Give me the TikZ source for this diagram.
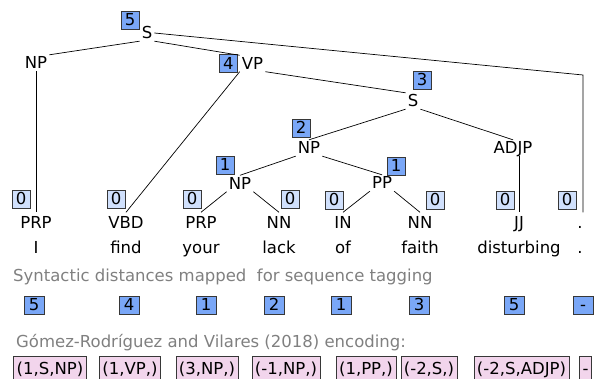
\documentclass[tikz,border=0pt]{standalone}
\usepackage{fontspec}
\setmainfont{DejaVu Sans}
\usetikzlibrary{positioning}

\definecolor{distblue}{RGB}{122,167,247}
\definecolor{zeroblue}{RGB}{208,224,252}
\definecolor{encpink}{RGB}{242,213,236}
\definecolor{boxline}{RGB}{55,55,55}
\definecolor{notegray}{RGB}{128,128,128}

\begin{document}
\begin{tikzpicture}[x=1pt, y=-1pt,
    font=\fontsize{16.5}{20}\selectfont,
    cat/.style={inner sep=2pt, text height=12pt, text depth=0pt},
    tag/.style={inner xsep=2pt, inner ysep=4.5pt, text height=12pt, text depth=3.5pt},
    dist/.style={draw=boxline, fill=distblue, inner sep=0pt,
                 minimum width=18pt, minimum height=18pt,
                 text height=12pt, text depth=0pt},
    zero/.style={dist, fill=zeroblue},
    seqdist/.style={dist, minimum width=20pt},
    enc/.style={draw=boxline, fill=encpink, inner xsep=3pt, inner ysep=5pt,
                text height=13pt, text depth=3.5pt, anchor=base},
    note/.style={text=notegray, anchor=base west, inner sep=0pt},
    branch/.style={line width=0.7pt}]
    \useasboundingbox (0,0) rectangle (597,379);

    % POS tags and words
        \node[tag, anchor=base] (tI) at (36,229) {PRP};
        \node[tag, anchor=base] (tFind) at (126,229) {VBD};
        \node[tag, anchor=base] (tYour) at (201,229) {PRP};
        \node[tag, anchor=base] (tLack) at (279,229) {NN};
        \node[tag, anchor=base] (tOf) at (343,229) {IN};
        \node[tag, anchor=base] (tFaith) at (420,229) {NN};
        \node[tag, anchor=base] (tDist) at (519,229) {JJ};
        \node[tag, anchor=base] (tDot) at (580,229) {.};

        \node[tag, below=0pt of tI] (wI) {I};
        \node[tag, below=0pt of tFind] (wFind) {find};
        \node[tag, below=0pt of tYour] (wYour) {your};
        \node[tag, below=0pt of tLack] (wLack) {lack};
        \node[tag, below=0pt of tOf] (wOf) {of};
        \node[tag, below=0pt of tFaith] (wFaith) {faith};
        \node[tag, below=0pt of tDist] (wDist) {disturbing};
        \node[tag, below=0pt of tDot] (wDot) {.};

    % constituents
        \node[cat] (S) at (147,33) {S};
        \node[cat] (NPsubj) at (36,63) {NP};
        \node[cat] (VP) at (252.5,63.5) {VP};
        \node[cat] (Sc) at (413,101) {S};
        \node[cat] (NPobj) at (309,148) {NP};
        \node[cat] (ADJP) at (513,148) {ADJP};
        \node[cat] (NPin) at (240,183.5) {NP};
        \node[cat] (PP) at (382,183) {PP};
        \coordinate (corner) at (583,75);

    % syntactic distances in the tree
        \node[dist] (dS) at (130,20) {5};
        \node[dist, left=2pt of VP] (dVP) {4};
        \node[dist] (dSc) at (422,80) {3};
        \node[dist] (dNPobj) at (301,128) {2};
        \node[dist] (dNPin) at (225,165) {1};
        \node[dist] (dPP) at (396,166) {1};

        \node[zero] (zI) at (21,199) {0};
        \node[zero] (zFind) at (116,199) {0};
        \node[zero] (zYour) at (192,199) {0};
        \node[zero] (zLack) at (290,199) {0};
        \node[zero] (zOf) at (334,200) {0};
        \node[zero] (zFaith) at (435,200) {0};
        \node[zero] (zDist) at (505,200) {0};
        \node[zero] (zDot) at (567,200) {0};

    % branches
        \draw[branch] (S.south west) -- (NPsubj.north east);
        \draw[branch] (S.south east) -- (VP.north west);
        \draw[branch] (S.east) -- (corner) -- (corner |- tDot.north);
        \draw[branch] (NPsubj.south) -- (tI.north);
        \draw[branch] (VP.south west) -- (tFind.north);
        \draw[branch] (VP.south east) -- (Sc.north west);
        \draw[branch] (Sc.south west) -- (NPobj.north);
        \draw[branch] (Sc.south east) -- (ADJP.north);
        \draw[branch] (ADJP.south -| tDist.north) -- (tDist.north);
        \draw[branch] (NPobj.south west) -- (NPin.north);
        \draw[branch] (NPobj.south east) -- (PP.north);
        \draw[branch] (NPin.south west) -- (tYour.north);
        \draw[branch] (NPin.south east) -- (tLack.north);
        \draw[branch] (PP.south west) -- (tOf.north);
        \draw[branch] (PP.south east) -- (tFaith.north);

    % sequence tagging rows
        \node[note] (noteDist) at (13,282) {Syntactic distances mapped \ for sequence tagging};
        \node[seqdist] (sI) at (34,305) {5};
        \node[seqdist] (sFind) at (129,305) {4};
        \node[seqdist] (sYour) at (206,305) {1};
        \node[seqdist] (sLack) at (274,305) {2};
        \node[seqdist] (sOf) at (341,305) {1};
        \node[seqdist] (sFaith) at (419,305) {3};
        \node[seqdist] (sDist) at (514,305) {5};
        \node[seqdist] (sDot) at (583,305) {-};

        \node[note] (noteEnc) at (16,347) {Gómez-Rodríguez and Vilares (2018) encoding:};
        \node[enc] (eI) at (50,374) {(1,S,NP)};
        \node[enc] (eFind) at (130,374) {(1,VP,)};
        \node[enc] (eYour) at (207,374) {(3,NP,)};
        \node[enc] (eLack) at (286,374) {(-1,NP,)};
        \node[enc] (eOf) at (366,374) {(1,PP,)};
        \node[enc] (eFaith) at (429,374) {(-2,S,)};
        \node[enc] (eDist) at (521.5,374) {(-2,S,ADJP)};
        \node[enc] (eDot) at (585.5,374) {-};
\end{tikzpicture}
\end{document}
